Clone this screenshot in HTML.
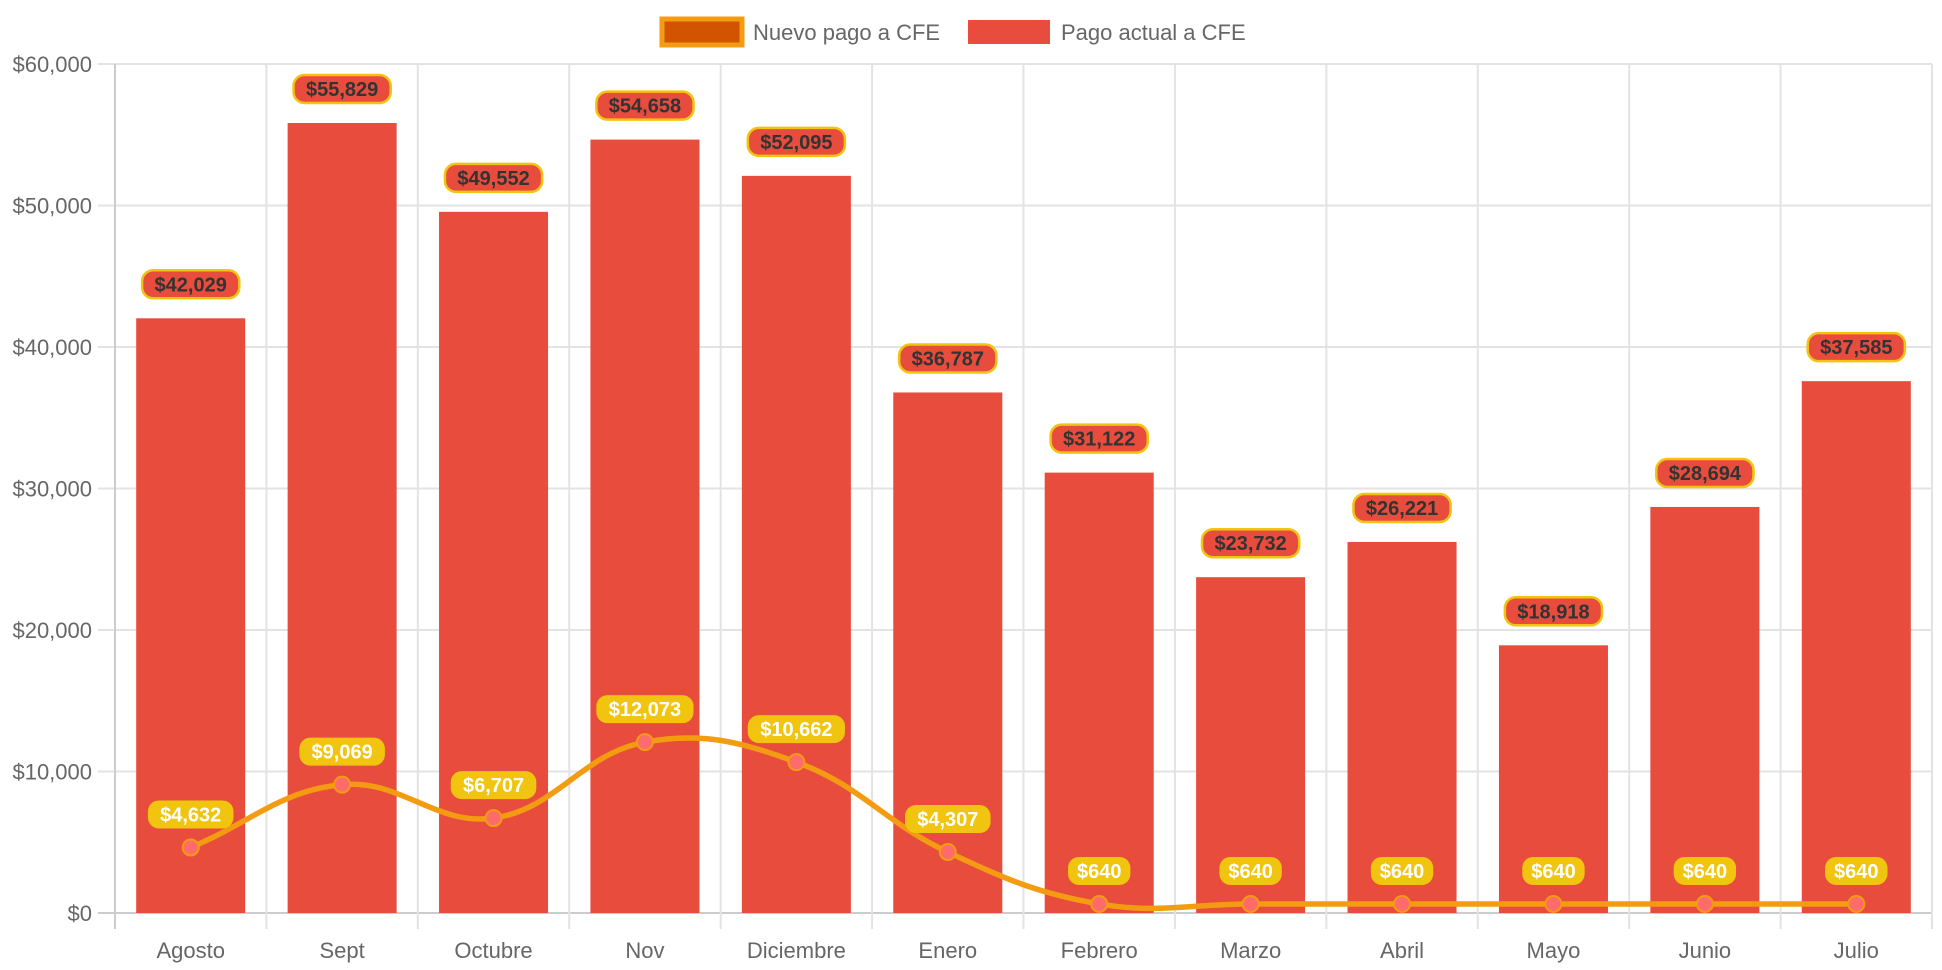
<!DOCTYPE html>
<html><head><meta charset="utf-8">
<style>
html,body{margin:0;padding:0;background:#fff;width:1942px;height:970px;overflow:hidden;}
svg{display:block;font-family:"Liberation Sans",Arial,sans-serif;}
</style></head>
<body>
<svg id="chart" width="1942" height="970" xmlns="http://www.w3.org/2000/svg">
  <g>
    <g>
      <rect x="662" y="19" width="80" height="26" fill="#d35400" stroke="#f39c12" stroke-width="5"/>
      <text x="753" y="40" font-size="22" fill="#666">Nuevo pago a CFE</text>
    </g>
    <g>
      <rect x="968" y="20" width="82" height="24" fill="#e74c3c"/>
      <text x="1061" y="40" font-size="22" fill="#666">Pago actual a CFE</text>
    </g>
  </g>
  <g id="grid"></g>
  <g id="bars"></g>
  <g id="line"></g>
  <g id="labels"></g>
  <g id="axes"></g>
</svg>
<script>
const categories = ["Agosto","Sept","Octubre","Nov","Diciembre","Enero","Febrero","Marzo","Abril","Mayo","Junio","Julio"];
const actualValues = [42029,55829,49552,54658,52095,36787,31122,23732,26221,18918,28694,37585];
const newValues = [4632,9069,6707,12073,10662,4307,640,640,640,640,640,640];
const yTicks = [0,10000,20000,30000,40000,50000,60000];

const NS="http://www.w3.org/2000/svg";
const L=115,R=1932,T=64,B=913,yMax=60000;
const cw=(R-L)/categories.length;
const xC=i=>L+cw*(i+0.5);
const yS=v=>B-(v/yMax)*(B-T);
const fmt=v=>"$"+v.toLocaleString("en-US");
function mk(tag,attrs,parent){const e=document.createElementNS(NS,tag);for(const k in attrs)e.setAttribute(k,attrs[k]);parent.appendChild(e);return e;}
const grid=document.getElementById("grid"),bars=document.getElementById("bars"),line=document.getElementById("line"),labels=document.getElementById("labels"),axes=document.getElementById("axes");

yTicks.forEach(t=>{
  const y=yS(t);
  const g=mk("line",{x1:L-17,x2:R,y1:y,y2:y,stroke:t===0?"#ccc":"#e3e3e3","stroke-width":2},grid);
  
  
  const tx=mk("text",{x:92,y:y+8,"text-anchor":"end","font-size":22,fill:"#666"},axes);
  tx.textContent=fmt(t);
  
  
});
for(let i=0;i<=categories.length;i++){
  const x=L+cw*i;
  const g=mk("line",{x1:x,x2:x,y1:T,y2:B+16,stroke:i===0?"#ccc":"#e3e3e3","stroke-width":2},grid);
  
  
}
categories.forEach((c,i)=>{
  const t=mk("text",{x:xC(i),y:958,"text-anchor":"middle","font-size":22,fill:"#666"},axes);
  t.textContent=c;
  
  
});
const bw=cw*0.72;
actualValues.forEach((v,i)=>{
  const y=yS(v);
  const r=mk("rect",{x:xC(i)-bw/2,y:y,width:bw,height:B-y,fill:"#e74c3c"},bars);
  
  
});
const pts=newValues.map((v,i)=>[xC(i),yS(v)]);
let d="M"+pts[0][0]+","+pts[0][1];
const tens=0.4;
function cps(i){
  const p=pts[Math.max(i-1,0)],c=pts[i],n=pts[Math.min(i+1,pts.length-1)];
  const d01=Math.hypot(c[0]-p[0],c[1]-p[1]),d12=Math.hypot(n[0]-c[0],n[1]-c[1]);
  let fa=d01/(d01+d12||1),fb=d12/(d01+d12||1);
  fa*=tens;fb*=tens;
  return {prev:[c[0]-fa*(n[0]-p[0]),c[1]-fa*(n[1]-p[1])],next:[c[0]+fb*(n[0]-p[0]),c[1]+fb*(n[1]-p[1])]};
}
for(let i=1;i<pts.length;i++){
  const a=cps(i-1).next,b=cps(i).prev;
  d+=` C${a[0]},${a[1]} ${b[0]},${b[1]} ${pts[i][0]},${pts[i][1]}`;
}
const path=mk("path",{d:d,fill:"none",stroke:"#f39c12","stroke-width":5.5},line);


pts.forEach((p,i)=>{
  const c=mk("circle",{cx:p[0],cy:p[1],r:8,fill:"#ff6b6b",stroke:"#f39c12","stroke-width":2},line);
  
  
});
function label(x,cy,text,bg,border,color,name){
  const g=mk("g",{},labels);
  
  
  const w=text.length*11.6+16;
  mk("rect",{x:x-w/2,y:cy-14,width:w,height:28,rx:11,fill:bg,stroke:border,"stroke-width":border==="none"?0:2.5},g);
  const t=mk("text",{x:x,y:cy+7,"text-anchor":"middle","font-size":20,"font-weight":"bold",fill:color},g);
  t.textContent=text;
}
actualValues.forEach((v,i)=>label(xC(i),yS(v)-34,fmt(v),"#e74c3c","#f1c40f","#333","bar-value-label"));
newValues.forEach((v,i)=>label(xC(i),yS(v)-33,fmt(v),"#f1c40f","none","#fff","line-value-label"));
</script>
</body></html>
